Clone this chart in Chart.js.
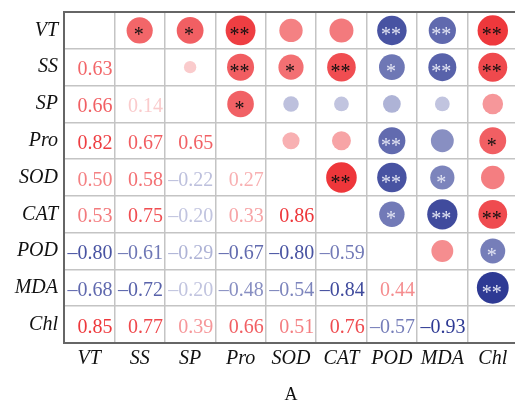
<html>
  <head>
    <script src="https://cdn.jsdelivr.net/npm/chart.js@4/dist/chart.umd.min.js"></script>
    <style>
      html,
      body {
        margin: 0;
        padding: 0;
        overflow: hidden;
        background: #fff;
      }
      #corrChart {
        display: block;
      }
    </style>
  </head>
  <body>
    <canvas id="corrChart" width="522" height="401"></canvas>

    <script>
      const variables = ["VT", "SS", "SP", "Pro", "SOD", "CAT", "POD", "MDA", "Chl"];

      // lower triangle: row i holds r for columns 0..i-1
      const corrLower = [
        [],
        [0.63],
        [0.66, 0.14],
        [0.82, 0.67, 0.65],
        [0.5, 0.58, -0.22, 0.27],
        [0.53, 0.75, -0.2, 0.33, 0.86],
        [-0.8, -0.61, -0.29, -0.67, -0.8, -0.59],
        [-0.68, -0.72, -0.2, -0.48, -0.54, -0.84, 0.44],
        [0.85, 0.77, 0.39, 0.66, 0.51, 0.76, -0.57, -0.93],
      ];

      // significance marks, upper triangle: row i holds columns i+1..8
      const signif = [
        ["*", "*", "**", "", "", "**", "**", "**"],
        ["", "**", "*", "**", "*", "**", "**"],
        ["*", "", "", "", "", ""],
        ["", "", "**", "", "*"],
        ["**", "**", "*", ""],
        ["*", "**", "**"],
        ["", "*"],
        ["**"],
      ];

      const posColor = [235, 25, 30];
      const negColor = [32, 45, 141];

      function corrAt(i, j) {
        return i > j ? corrLower[i][j] : corrLower[j][i];
      }

      function shade(v) {
        const base = v >= 0 ? posColor : negColor;
        const t = 0.1 + 0.9 * Math.abs(v);
        const c = base.map((b) => Math.round(255 + (b - 255) * t));
        return "rgb(" + c.join(",") + ")";
      }

      function fmt(v) {
        return (v < 0 ? "\u2013" : "") + Math.abs(v).toFixed(2);
      }

      const bubbles = [];
      for (let i = 0; i < variables.length; i++) {
        for (let j = i + 1; j < variables.length; j++) {
          const v = corrAt(i, j);
          bubbles.push({
            x: variables[j],
            y: variables[i],
            r: 16.5 * Math.sqrt(Math.abs(v)),
            v: v,
            star: signif[i][j - i - 1],
          });
        }
      }

      // numbers in the lower triangle, stars on the bubbles
      const cellText = {
        id: "cellText",
        afterDatasetsDraw(chart) {
          const ctx = chart.ctx;
          const xs = chart.scales.x;
          const ys = chart.scales.y;
          const cellW = xs.width / variables.length;
          ctx.save();
          ctx.font = "20px 'Liberation Serif'";
          ctx.textBaseline = "alphabetic";
          ctx.textAlign = "right";
          for (let i = 1; i < variables.length; i++) {
            for (let j = 0; j < i; j++) {
              const v = corrLower[i][j];
              ctx.fillStyle = shade(v);
              ctx.fillText(fmt(v), xs.getPixelForValue(j) + cellW / 2 - 2, ys.getPixelForValue(i) + 8);
            }
          }
          ctx.textAlign = "center";
          bubbles.forEach((b) => {
            if (!b.star) return;
            ctx.fillStyle = b.v >= 0 ? "#111" : "#e4e6f4";
            ctx.fillText(b.star, xs.getPixelForValue(b.x) - 1, ys.getPixelForValue(b.y) + 11);
          });
          ctx.restore();
        },
      };

      const ctx = document.getElementById("corrChart").getContext("2d");
      const corrChart = new Chart(ctx, {
        type: "bubble",
        data: {
          datasets: [
            {
              data: bubbles,
              backgroundColor: (c) => (c.raw ? shade(c.raw.v) : "#fff"),
              borderWidth: 0,
              hoverBorderWidth: 0,
            },
          ],
        },
        options: {
          responsive: false,
          animation: false,
          layout: { autoPadding: false, padding: { left: 0, top: 0, right: 4, bottom: 0 } },
          plugins: {
            legend: { display: false },
            tooltip: { enabled: false },
          },
          scales: {
            x: {
              type: "category",
              labels: variables,
              offset: true,
              grid: { offset: true, color: "#c4c4c4", lineWidth: 1.5, drawTicks: false },
              border: { color: "#666", width: 2 },
              ticks: {
                autoSkip: false,
                maxRotation: 0,
                padding: 4,
                color: "#111",
                font: { family: "'Liberation Serif'", size: 20, style: "italic" },
              },
              title: {
                display: true,
                text: "A",
                color: "#111",
                padding: 0,
                font: { family: "'Liberation Serif'", size: 18, lineHeight: 0.6 },
              },
              afterFit(scale) {
                scale.height = 58;
              },
            },
            y: {
              type: "category",
              labels: variables,
              offset: true,
              grid: {
                offset: true,
                color: (c) => (c.index === 0 ? "#666" : "#c4c4c4"),
                lineWidth: (c) => (c.index === 0 ? 2 : 1.5),
                drawTicks: false,
              },
              border: { color: "#666", width: 2 },
              ticks: {
                autoSkip: false,
                padding: 6,
                color: "#111",
                font: { family: "'Liberation Serif'", size: 20, style: "italic" },
              },
              afterFit(scale) {
                scale.width = 64;
                scale.paddingTop = 12;
                scale.paddingBottom = 0;
              },
            },
          },
        },
        plugins: [cellText],
      });
    </script>
  </body>
</html>
